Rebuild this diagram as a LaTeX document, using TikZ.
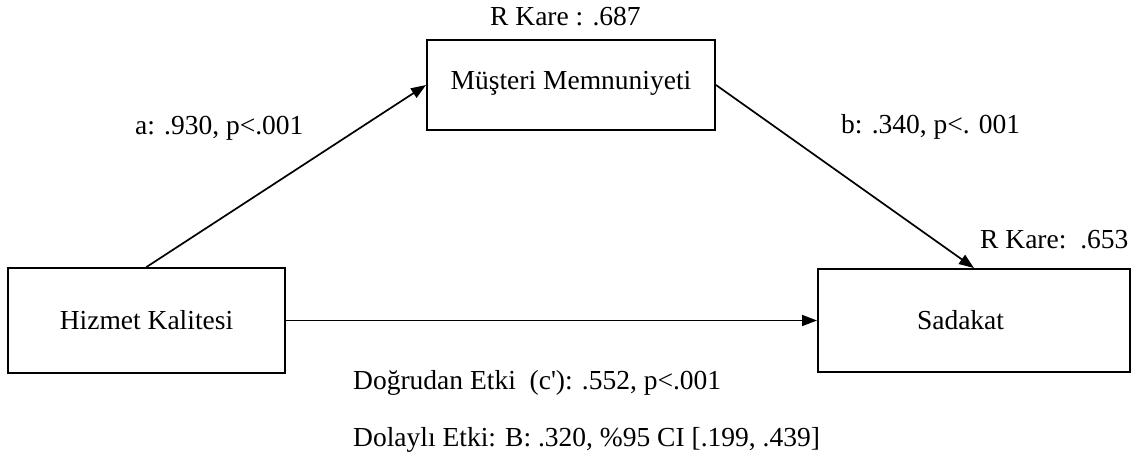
\documentclass[tikz,border=0pt]{standalone}
\usepackage{fontspec}
\setmainfont{Liberation Serif}
\usetikzlibrary{arrows.meta}
\begin{document}
\begin{tikzpicture}[x=1pt,y=-1pt,
  box/.style={draw, line width=2pt, inner sep=0pt, font=\fontsize{27.5}{31}\selectfont},
  lbl/.style={font=\fontsize{27.5}{31}\selectfont, inner sep=0pt, anchor=west},
  arr/.style={line width=1.7pt, -{Triangle[length=15pt,width=11pt]}}]
\useasboundingbox (0,0) rectangle (1139,459);
\node[box, minimum width=277pt, minimum height=105pt] (hk) at (146.5,320.5) {Hizmet Kalitesi};
\node[box, minimum width=288pt, minimum height=90pt, text depth=10pt] (mm) at (571,85) {Müşteri Memnuniyeti};
\node[box, minimum width=312pt, minimum height=103pt, text width=292pt, align=left] (sd) at (974,320.5) {\hspace*{89pt}Sadakat};
\draw[arr] (hk.north) -- (mm.west);
\draw[arr] (mm.east) -- (sd.north);
\draw[arr] (hk.east) -- (sd.west);
\node[lbl] (r1) at (490,17) {R Kare : .687};
\node[lbl] (la) at (135,128) {a: .930, p<.001};
\node[lbl] (lb) at (841,127) {b: .340, p<. 001};
\node[lbl] (r2) at (980,240) {R Kare:\ \ .653};
\node[lbl] (lc) at (353,383) {Doğrudan Etki \ (c\textquotesingle): .552, p<.001};
\node[lbl] (ld) at (353,440) {Dolaylı Etki: B: .320, \%95 CI [.199, .439]};
\end{tikzpicture}
\end{document}
